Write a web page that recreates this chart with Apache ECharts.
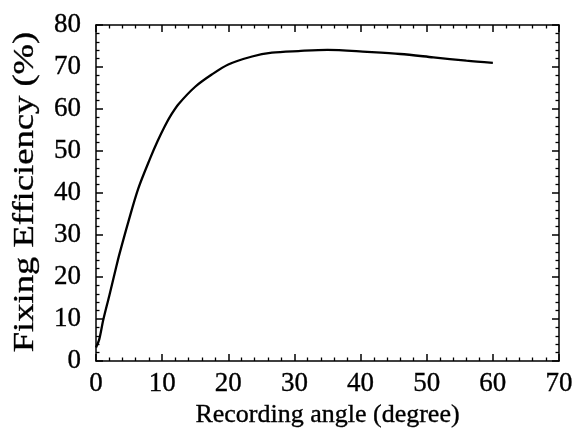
<!DOCTYPE html>
<html>
<head>
<meta charset="utf-8">
<style>
  html, body { margin: 0; padding: 0; background: #fff; }
  #chart { width: 576px; height: 435px; }
</style>
<script src="https://cdn.jsdelivr.net/npm/echarts@6/dist/echarts.min.js"></script>
</head>
<body>
<div id="chart"></div>
<script>
// Recording angle (degree) and the resulting fixing efficiency (%)
const angles = [0, 0.5, 1.1, 2, 3, 3.5, 4.9, 6.4, 8.2, 9.3, 10.4, 11.4, 12.5, 15, 17.5, 20, 23.6, 26.6, 30.6, 35, 41, 46, 51, 56, 60];
const efficiency = [3.2, 5.2, 9.8, 15.5, 22, 25.2, 33.2, 41.1, 48.3, 52.3, 55.9, 58.7, 61.2, 65.3, 68.2, 70.6, 72.5, 73.4, 73.8, 74.1, 73.6, 73.1, 72.3, 71.5, 71.0];

const xTitle = 'Recording angle (degree)';
const yTitle = 'Fixing Efficiency (%)';

const serif = '"Liberation Serif", "DejaVu Serif", serif';
const ink = '#000';

const chart = echarts.init(document.getElementById('chart'), null, { renderer: 'canvas' });

// Frame axes: ticks point inward on all four sides
function frameAxis(extra) {
  return Object.assign({
    type: 'value',
    axisLine: { show: true, onZero: false, lineStyle: { color: ink, width: 1.5 } },
    axisTick: { show: true, inside: true, length: 7, lineStyle: { color: ink, width: 1.5 } },
    minorTick: { show: true, splitNumber: 5, length: 3.5, lineStyle: { color: ink, width: 1.3 } },
    splitLine: { show: false },
    minorSplitLine: { show: false }
  }, extra);
}

// Slightly heavier strokes for the serif lettering
const heavy = { textBorderColor: ink, textBorderWidth: 0.35 };
const tickFont = Object.assign({ color: ink, fontFamily: serif, fontSize: 27 }, heavy);

chart.setOption({
  animation: false,
  backgroundColor: '#fff',
  grid: { left: 96, right: 17, top: 25, bottom: 74 },
  xAxis: [
    frameAxis({
      position: 'bottom', min: 0, max: 70, interval: 10,
      axisLabel: Object.assign({ margin: 9 }, tickFont),
      name: xTitle, nameLocation: 'middle', nameGap: 37,
      nameTextStyle: Object.assign({ color: ink, fontFamily: serif, fontSize: 26 }, heavy)
    }),
    frameAxis({
      position: 'top', min: 0, max: 70, interval: 10,
      axisLabel: { show: false }
    })
  ],
  yAxis: [
    frameAxis({
      position: 'left', min: 0, max: 80, interval: 10,
      axisLabel: Object.assign({ margin: 15 }, tickFont)
    }),
    frameAxis({
      position: 'right', min: 0, max: 80, interval: 10,
      axisLabel: { show: false }
    })
  ],
  graphic: [{
    type: 'text',
    x: 25,
    y: 192,
    rotation: Math.PI / 2,
    scaleX: 1.22,
    style: {
      text: yTitle,
      font: '30px ' + serif,
      fill: ink,
      stroke: ink,
      lineWidth: 0.35,
      align: 'center',
      verticalAlign: 'middle'
    }
  }],
  series: [{
    type: 'line',
    data: angles.map((a, i) => [a, efficiency[i]]),
    smooth: 0.3,
    symbol: 'none',
    lineStyle: { color: ink, width: 2.3 }
  }]
});
</script>
</body>
</html>
